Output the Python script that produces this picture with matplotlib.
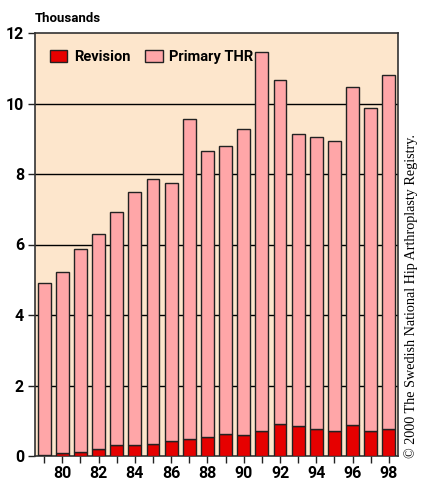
import matplotlib
matplotlib.use("Agg")
import matplotlib.pyplot as plt
import numpy as np

years = list(range(1979, 1999))
revision = [0.02, 0.08, 0.11, 0.19, 0.30, 0.30, 0.33, 0.42, 0.48, 0.54,
            0.62, 0.60, 0.70, 0.90, 0.85, 0.77, 0.70, 0.87, 0.72, 0.76]
total = [4.90, 5.23, 5.88, 6.30, 6.92, 7.50, 7.86, 7.75, 9.55, 8.66,
         8.79, 9.29, 11.46, 10.67, 9.13, 9.06, 8.94, 10.48, 9.88, 10.81]
primary = [t - r for t, r in zip(total, revision)]

plt.rcParams['font.family'] = ['Roboto', 'DejaVu Sans']

fig = plt.figure(figsize=(4.21, 4.83), dpi=100)
ax = fig.add_axes([35 / 421, 27 / 483, 363 / 421, 423 / 483])
ax.set_facecolor('#fde6cc')

x = np.arange(len(years))
w = 0.71
ax.bar(x, revision, w, color='#e60000', edgecolor='#222222', linewidth=1.0,
       label='Revision', zorder=3)
ax.bar(x, primary, w, bottom=revision, color='#ffa6a8', edgecolor='#222222',
       linewidth=1.0, label='Primary THR', zorder=3)

for yv in range(2, 12, 2):
    ax.axhline(yv, color='black', linewidth=1.0, zorder=1)

ax.set_xlim(-0.5, 19.5)
ax.set_ylim(0, 12)
ax.set_yticks(range(0, 13, 2))
ax.set_yticklabels([str(v) for v in range(0, 13, 2)], fontsize=11.5, fontweight='bold')
ax.set_xticks(x)
ax.set_xticklabels([str(y % 100) if y % 2 == 0 else '' for y in years],
                   fontsize=11.5, fontweight='bold')
ax.tick_params(axis='both', direction='out', length=5, width=1, color='#222222')
ax.tick_params(axis='x', pad=2)
ax.tick_params(axis='y', pad=3)
for s in ax.spines.values():
    s.set_color('#333333')
    s.set_linewidth(1.2)

ax.legend(loc='upper left', frameon=False, ncol=2,
          prop={'weight': 'bold', 'size': 10.5}, handlelength=1.2,
          handleheight=0.85, columnspacing=1.0, handletextpad=0.45,
          bbox_to_anchor=(0.005, 0.99))

fig.text(35 / 421, 1 - 18 / 483, 'Thousands', fontsize=9.5, fontweight='bold',
         va='center', ha='left')
fig.text(411 / 421, 1 - 296 / 483, '\u00a9 2000 The Swedish National Hip Arthroplasty Registry.',
         rotation=90, fontsize=10.2, family='Liberation Serif', va='center', ha='center')

fig.savefig('out.png', dpi=100)
